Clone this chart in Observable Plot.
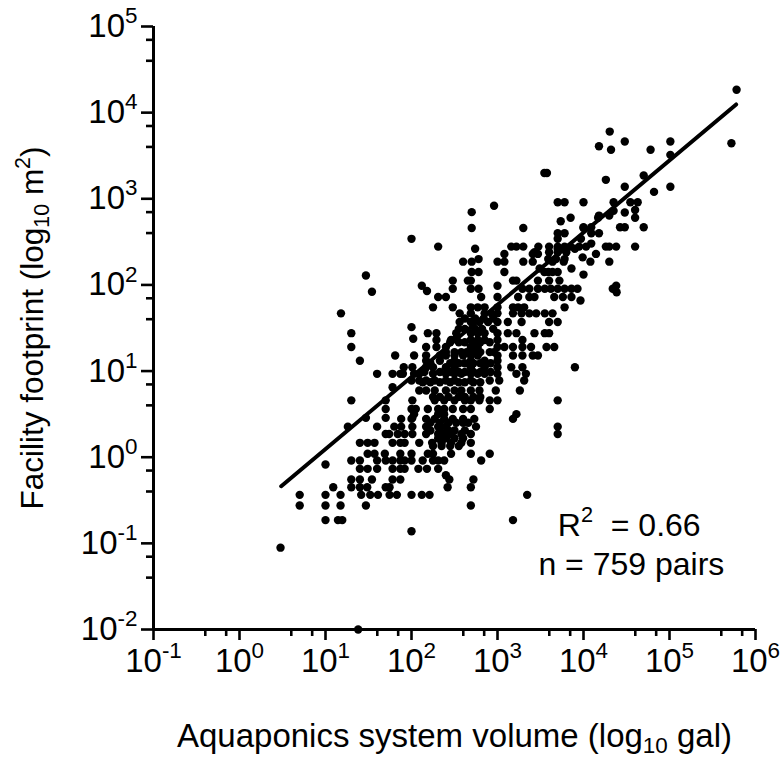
<!DOCTYPE html>
<html>
<head>
<meta charset="utf-8">
<script src="https://cdn.jsdelivr.net/npm/d3@7"></script>
<script src="https://cdn.jsdelivr.net/npm/@observablehq/plot@0.6"></script>
<style>
html,body{margin:0;padding:0;background:#fff}
svg{display:block}
</style>
</head>
<body>
<div id="chart"></div>
<script>
// log10(m2) footprint levels and, for each, the log10(gal) volumes read at that level
const logFootprint = [4.265,3.78,3.665,3.645,3.61,3.57,3.51,3.30,3.27,3.22,3.14,3.08,2.96,2.92,2.87,2.86,2.845,2.84,2.805,2.78,2.74,2.67,2.66,2.60,2.535,2.48,2.445,2.42,2.38,2.36,2.32,2.30,2.27,2.19,2.15,2.12,2.11,2.05,1.99,1.955,1.93,1.92,1.915,1.86,1.82,1.74,1.67,1.57,1.51,1.44,1.375,1.36,1.28,1.18,1.12,1.045,0.968,0.89,0.813,0.775,0.66,0.56,0.50,0.457,0.445,0.355,0.27,0.167,0.04,-0.038,-0.085,-0.135,-0.21,-0.259,-0.348,-0.437,-0.56,-0.73,-0.86,-1.05,-2,
1.61,1.49,1.335,1.22,1.09,0.99,0.87,0.70,0.40,0.31,0.22,0.13];
const logVolume = [
[5.78],[4.305],[4.48,5.01],[5.72],[4.18],[4.32,4.78],[5.01],[3.545,3.575],[4.70],[4.26],[4.48,5.01],[4.82],
[3.70,3.78,4.0,4.35,4.545,4.63],[2.96],[4.60],[4.35],[2.70],[4.48],[4.30,4.18],[3.85,4.17,4.60],[3.735],
[4.0,4.09,4.425,4.48,4.70],[2.70,3.30,4.0],[3.70,3.78,4.18,4.09],[2.0,3.70,3.97],[4.09],
[2.31,3.16,3.22,3.30,3.475,3.60,3.70,3.78,3.85,3.95,4.03,4.26,4.30,4.38,4.60],
[2.74,3.70,3.78,3.90],[3.43,3.60,3.70,3.80],[3.08,3.41,3.47,4.145],[3.99],[2.78,3.59,3.68,3.78],
[2.60,2.70,3.0,3.08,3.30,3.41,3.77,3.64,4.08,4.30],[3.49,3.86],[2.70,2.78,3.08,3.59,3.70,3.545,3.64],[4.0],[1.47],
[2.48,2.655,2.69,3.18,3.22,3.47,3.60,3.72],[2.12,3.0,4.38],
[2.48,2.69,2.78,3.29,3.37,3.47,3.55,3.62,3.70,3.78,3.86,3.93,4.34],[2.18],[1.54],[4.385],
[2.31,2.40,2.81,3.0,3.24,3.37,3.43,3.66,3.76,3.86],[3.965],[2.25,2.48,2.69,2.77,2.85,3.0,3.18,3.24,3.31,3.78],
[1.18,2.56,2.69,2.85,2.93,3.0,3.18,3.28,3.37,3.45,3.55,3.64],[2.56,2.69,2.79,2.89,3.0,3.12,3.28,3.60,3.70],[2.0],
[1.30,2.19,2.29,2.52,2.69,2.77,2.85,3.0,3.12,3.22,3.43,3.55,3.60],[2.02,2.52],[2.29,2.46,2.69,2.77,2.85,3.0,3.29],
[1.30,2.17,2.29,2.40,2.69,2.77,3.0,3.08,3.18,3.29,3.39,3.57,3.66],
[1.81,2.03,2.17,2.33,2.40,2.50,2.60,2.69,2.77,3.0,3.18,3.29,3.41,3.47],
[1.40,2.17,2.33,2.50,2.69,2.85,3.0],
[1.91,2.01,2.17,2.25,2.40,2.50,2.69,2.85,3.0,3.16,3.29,3.90],
[1.60,1.78,1.87,1.90,2.03,2.09,2.25,2.40,2.50,2.58,2.69,2.77,2.85,3.0,3.22,3.33],
[2.0,2.09,2.17,2.27,2.40,2.50,2.69,2.91,3.02,3.31],[1.78],
[2.09,2.17,2.27,2.40,2.50,2.58,2.69,2.79,2.98,3.26],
[1.30,1.70,2.01,2.27,2.38,2.50,2.62,2.69,2.79,2.91,3.0,3.70],
[1.70,2.0,2.05,2.19,2.31,2.38,2.48,2.60,2.69,2.91],[2.03,2.31,2.38,3.22],[1.47,1.70,2.01],
[1.88,2.0,2.17,2.27,2.38,2.48,2.60,2.73,3.18],[1.26,1.60,1.80,1.88,2.01,2.17,2.31,2.40,2.75,3.70],
[1.70,1.74,1.84,1.92,2.01,2.17,2.31,2.38,2.46,2.58,2.69,3.70],
[1.40,1.49,1.57,1.78,1.87,1.92,2.09,2.24,2.35,2.46,2.58,2.69],
[1.49,1.57,1.69,1.87,2.0,2.19,2.25,2.46,2.69,2.91],
[1.30,1.40,1.60,1.70,1.78,1.87,1.92,2.0,2.13,2.25,2.31,2.38,2.81],[1.0],
[1.40,1.49,1.60,1.78,1.87,1.92,2.08,2.18,2.31],[2.40],[1.30,1.40,1.54,1.78,1.87,2.44,2.72],
[1.09,1.30,1.40,1.485,1.70,1.745,2.42,2.69],
[0.70,1.0,1.175,1.415,1.52,1.61,1.745,1.83,2.0,2.12,2.21,3.345],[0.70,1.0,1.175,1.47,2.69],[1.0,1.145,1.195,3.18],[2.0],[0.477],[1.38],
[2.62,2.74,2.84,2.95],[2.55,2.62,2.74,2.82,2.95],[2.45,2.55,2.62,2.72,2.80,2.91],[2.40,2.50,2.58,2.64,2.72,2.80,2.91,2.96],
[2.22,2.45,2.55,2.62,2.72,2.80,2.92],[2.15,2.33,2.45,2.55,2.62,2.72,2.80,2.92],[2.13,2.22,2.33,2.45,2.55,2.62,2.72,2.80],
[2.25,2.33,2.43,2.55,2.62,2.72,2.80],[2.22,2.33,2.43,2.52,2.60,2.66],[2.22,2.33,2.43,2.50,2.62],[2.31,2.40,2.50,2.60],[2.25,2.35,2.45,2.55]
];
const fitLogVolume = [0.485, 5.775];
const fitLogFootprint = [-0.337, 4.095];
const xTicks = [1e-1,1e0,1e1,1e2,1e3,1e4,1e5,1e6];
const yTicks = [1e-2,1e-1,1e0,1e1,1e2,1e3,1e4,1e5];
const minorMantissas = [4,7];
const xLabel = "Aquaponics system volume (log_{10} gal)";
const yLabel = "Facility footprint (log_{10} m^{2})";
const notes = ["R^{2}\u00a0 = 0.66","n = 759 pairs"];
const noteX = [3.4e4, 3.6e4];
const noteY = [0.162, 0.057];

const points = logFootprint.flatMap((ly,i)=>logVolume[i].map(lx=>({x:10**lx,y:10**ly})));
const fit = fitLogVolume.map((lx,i)=>({x:10**lx,y:10**fitLogFootprint[i]}));
const minor = t => t.slice(0,-1).flatMap(d=>minorMantissas.map(m=>d*m));
const fmt = d => `10^{${Math.round(Math.log10(d))}}`;
const FONT = '"Liberation Sans", Arial, sans-serif';

const svg = Plot.plot({
  width:783, height:761,
  marginLeft:153, marginRight:28, marginTop:26, marginBottom:132,
  style:{background:"#fff",fontFamily:FONT,color:"#000",overflow:"visible"},
  x:{type:"log",domain:[0.1,1e6]},
  y:{type:"log",domain:[0.01,1e5]},
  marks:[
    Plot.axisX({ticks:minor(xTicks),tickSize:7,tickFormat:null,text:null,strokeWidth:2.6,label:null}),
    Plot.axisY({ticks:minor(yTicks),tickSize:7,tickFormat:null,text:null,strokeWidth:2.6,label:null}),
    Plot.axisX({ticks:xTicks,tickSize:11,tickPadding:8,tickFormat:fmt,strokeWidth:2.6,fontSize:33,
      label:xLabel,labelAnchor:"center",labelArrow:"none",labelOffset:117}),
    Plot.axisY({ticks:yTicks,tickSize:12,tickPadding:4,tickFormat:fmt,strokeWidth:2.6,fontSize:33,
      label:yLabel,labelAnchor:"center",labelArrow:"none",labelOffset:133}),
    Plot.ruleX([0.1],{stroke:"#000",strokeWidth:3}),
    Plot.ruleY([0.01],{stroke:"#000",strokeWidth:3}),
    Plot.dot(points,{x:"x",y:"y",r:4.2,fill:"#000",stroke:"none"}),
    Plot.line(fit,{x:"x",y:"y",stroke:"#000",strokeWidth:4}),
    Plot.text(notes,{x:(d,i)=>noteX[i],y:(d,i)=>noteY[i],text:d=>d,fontSize:32,fill:"#000",textAnchor:"middle"})
  ]
});
// turn ^{..} and _{..} markers into real super/subscript tspans
function rich(node,sz){
  const s=node.textContent;
  if(!/[\^_]\{/.test(s))return;
  const parts=s.split(/([\^_]\{[^}]*\})/).filter(p=>p!=="");
  while(node.firstChild)node.removeChild(node.firstChild);
  const fs=sz;
  let shift=0;
  parts.forEach(p=>{
    const t=document.createElementNS("http://www.w3.org/2000/svg","tspan");
    const m=p.match(/^([\^_])\{(.*)\}$/);
    let target=0;
    if(m){
      target=m[1]==="^"?-0.42*fs:0.2*fs;
      t.textContent=m[2];
      t.setAttribute("font-size",fs*0.68);
    } else t.textContent=p;
    if(target!==shift)t.setAttribute("dy",target-shift);
    shift=target;
    node.appendChild(t);
  });
}
svg.querySelectorAll("text").forEach(n=>{
  const s=n.textContent;
  if(s.startsWith("Aquaponics")){n.setAttribute("font-size",33);n.style.fontSize="33px";rich(n,33);}
  else if(s.startsWith("Facility")){n.setAttribute("font-size",31.5);n.style.fontSize="31.5px";rich(n,31.5);}
  else if(s.startsWith("R^")){rich(n,32);}
  else rich(n,33);
});
document.getElementById("chart").appendChild(svg);
</script>
</body>
</html>
